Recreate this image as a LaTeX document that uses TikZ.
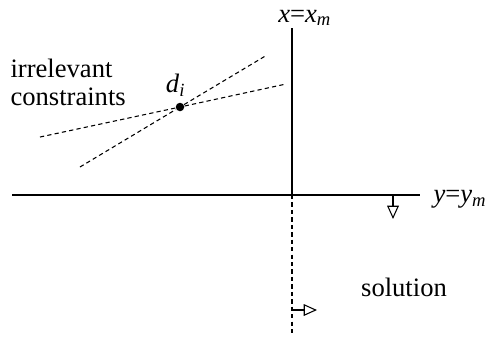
\documentclass[tikz,border=0pt]{standalone}
\usepackage{fontspec}
\setmainfont{Liberation Serif}
\usetikzlibrary{arrows.meta, positioning}

\begin{document}
\begin{tikzpicture}[
    x=0.376pt, y=-0.376pt,
    font=\fontsize{10}{10.5}\selectfont,
    constraint/.style={dash pattern=on 1.6pt off 1.2pt, line width=0.4pt},
    opentip/.style={-{Triangle[open, length=5pt, width=4.4pt]}, line width=0.4pt}
]
    \useasboundingbox (0,0) rectangle (494,338);

    % Axes
    \coordinate (xtop) at (292,28);
    \coordinate (origin) at (292,195);
    \coordinate (xbot) at (292,336);
    \coordinate (yleft) at (12,195);
    \coordinate (yright) at (420,195);
    \draw[line width=0.4pt] (xtop) -- (origin);
    \draw[line width=0.4pt] (yleft) -- (yright);
    \draw[constraint] (origin) -- (xbot);

    \node[anchor=base, inner sep=0pt] (xlab) at (305,22) {\textit{x}=\textit{x}\textsubscript{\textit{m}}};
    \node[anchor=base west, inner sep=0pt] (ylab) at (433,202) {\textit{y}=\textit{y}\textsubscript{\textit{m}}};

    % Direction arrows
    \coordinate (dstart) at (393,195);
    \coordinate (dend) at (393,219);
    \draw[opentip] (dstart) -- (dend);
    \coordinate (rstart) at (292,310);
    \coordinate (rend) at (317,310);
    \draw[opentip] (rstart) -- (rend);

    \node (sol) at (404,287) {solution};

    % Irrelevant constraints through d_i
    \node[circle, fill, inner sep=0pt, minimum size=3.2pt] (di) at (180,107) {};
    \node[above left=-1pt and -7pt of di] (dilab) {\textit{d}\textsubscript{\textit{i}}};
    \coordinate (c1a) at (80,167);
    \coordinate (c1b) at (267,55);
    \coordinate (c2a) at (40,137);
    \coordinate (c2b) at (286,84);
    \draw[constraint] (c1a) -- (di) -- (c1b);
    \draw[constraint] (c2a) -- (di) -- (c2b);

    \node[anchor=north west, align=left, inner sep=0pt] (irr) at (10,59) {irrelevant\\constraints};
\end{tikzpicture}
\end{document}
